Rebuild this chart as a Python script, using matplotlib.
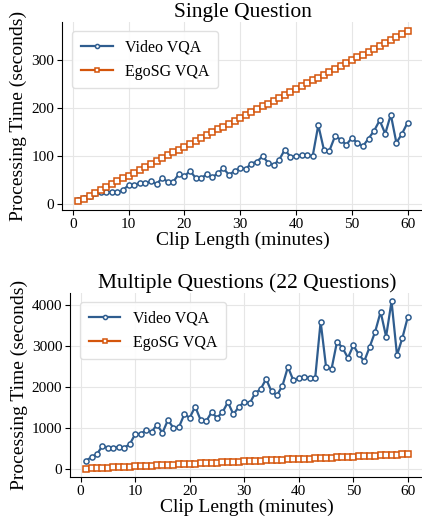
import matplotlib
matplotlib.use("Agg")
import matplotlib.pyplot as plt

plt.rcParams['font.family'] = ['Liberation Serif', 'DejaVu Serif']

minutes = list(range(1, 61))

# single question (seconds)
video_single = [10, 13, 18, 24, 25, 25, 25, 25, 30, 40,
                40, 45, 44, 48, 42, 55, 47, 47, 63, 58,
                70, 55, 54, 63, 56, 65, 75, 61, 70, 75,
                74, 85, 89, 100, 87, 82, 93, 114, 99, 101,
                102, 102, 101, 165, 114, 112, 142, 135, 124, 138,
                128, 121, 137, 153, 175, 147, 187, 128, 147, 170]
egosg_single = [6, 12, 18, 24, 30, 36, 42, 48, 54, 60,
                66, 72, 78, 84, 90, 96, 102, 108, 114, 120,
                126, 132, 138, 144, 150, 156, 162, 168, 174, 180,
                186, 192, 198, 204, 210, 216, 222, 228, 234, 240,
                246, 252, 258, 264, 270, 276, 282, 288, 294, 300,
                306, 312, 318, 324, 330, 336, 342, 348, 354, 362]

# 22 questions (seconds)
video_multi = [212, 302, 376, 571, 531, 531, 547, 531, 612, 857,
               865, 955, 914, 1086, 890, 1200, 1012, 1020, 1339, 1257,
               1527, 1200, 1167, 1388, 1257, 1388, 1633, 1339, 1518, 1641,
               1608, 1853, 1951, 2196, 1894, 1804, 2033, 2490, 2163, 2220,
               2237, 2229, 2220, 3592, 2482, 2441, 3102, 2955, 2710, 3012,
               2792, 2629, 2980, 3347, 3829, 3224, 4082, 2776, 3200, 3714]
egosg_multi = [20, 26, 32, 38, 44, 50, 56, 62, 68, 74,
               80, 86, 92, 98, 104, 110, 116, 122, 128, 134,
               140, 146, 152, 158, 164, 170, 176, 182, 188, 194,
               200, 206, 212, 218, 224, 230, 236, 242, 248, 254,
               260, 266, 272, 278, 284, 290, 296, 302, 308, 314,
               320, 326, 332, 338, 344, 350, 356, 362, 368, 380]

blue = '#2f5d8f'
orange = '#d4550b'

fig = plt.figure(figsize=(4.22, 5.27), dpi=100)
ax1 = fig.add_axes([62/422, 1 - 210/527, 362/422, 188/527])
ax2 = fig.add_axes([70/422, 1 - 477/527, 354/422, 184/527])

for ax, v, e, title in [(ax1, video_single, egosg_single, 'Single Question'),
                        (ax2, video_multi, egosg_multi, 'Multiple Questions (22 Questions)')]:
    ax.plot(minutes, v, color=blue, lw=1.6, marker='o', ms=3.7, mfc='white',
            mec=blue, mew=1.1, label='Video VQA')
    ax.plot(minutes, e, color=orange, lw=1.6, marker='s', ms=3.7, mfc='white',
            mec=orange, mew=1.1, label='EgoSG VQA')
    ax.set_title(title, fontsize=15.5, pad=2)
    ax.set_xlabel('Clip Length (minutes)', fontsize=14, labelpad=1)
    ax.set_ylabel('Processing Time (seconds)', fontsize=14, labelpad=3)
    ax.grid(True, color='#e6e6e6', lw=0.8)
    ax.set_axisbelow(True)
    ax.spines['top'].set_visible(False)
    ax.spines['right'].set_visible(False)
    ax.tick_params(labelsize=11, length=3.5, pad=2)
    ax.set_xticks([0, 10, 20, 30, 40, 50, 60])
    ax.legend(loc='upper left', fontsize=11.5, framealpha=0.9, edgecolor='#dddddd',
              handlelength=2.0, borderpad=0.55, markerscale=0.8,
              bbox_to_anchor=(0.005, 0.995))

ax1.set_yticks([0, 100, 200, 300])
ax2.set_yticks([0, 1000, 2000, 3000, 4000])

plt.savefig('out.png', dpi=100)
